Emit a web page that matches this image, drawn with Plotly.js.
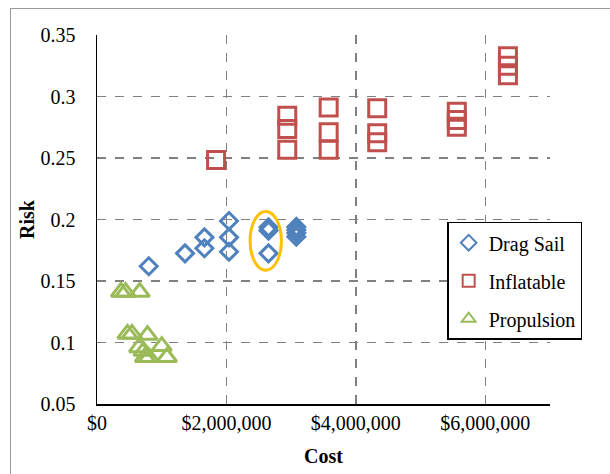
<!DOCTYPE html>
<html>
<head>
<meta charset="utf-8">
<script src="https://cdn.plot.ly/plotly-3.0.1.min.js"></script>
<style>
  html, body { margin: 0; padding: 0; background: #fff; }
  #frame { position: absolute; left: 10px; top: 8px; width: 700px; height: 600px; border: 1.5px solid #9a9a9a; }
  #chart { position: absolute; left: 0; top: 0; width: 610px; height: 474px; }
</style>
</head>
<body>
<div id="frame"></div>
<div id="chart"></div>
<script>
// Drag Sail
const dragCost = [800000, 1360000, 1660000, 1660000, 2040000, 2040000, 2040000, 2650000, 2650000, 2650000, 3080000, 3080000, 3080000, 3080000];
const dragRisk = [0.162, 0.1725, 0.1855, 0.1766, 0.1988, 0.1855, 0.1738, 0.1937, 0.191, 0.1725, 0.194, 0.1915, 0.189, 0.186];
// Inflatable
const inflCost = [1840000, 2940000, 2940000, 2940000, 3580000, 3580000, 3580000, 4330000, 4330000, 4330000, 5560000, 5560000, 5560000, 6350000, 6350000, 6350000];
const inflRisk = [0.2484, 0.2844, 0.2736, 0.2567, 0.291, 0.271, 0.2567, 0.2904, 0.2702, 0.2628, 0.2876, 0.2809, 0.2754, 0.3327, 0.325, 0.3172];
// Propulsion
const propCost = [370000, 440000, 660000, 470000, 540000, 780000, 650000, 720000, 1000000, 740000, 800000, 1080000];
const propRisk = [0.141, 0.141, 0.141, 0.107, 0.107, 0.106, 0.096, 0.093, 0.097, 0.088, 0.088, 0.088];
// Axis ticks
const xRange = [0, 7000000];
const xStep = 2000000;
const yRange = [0.05, 0.35];
const yStep = 0.05;
// Highlight ellipse (data space)
const highlight = {x0: 2365000, x1: 2850000, y0: 0.1588, y1: 0.2065};

const font = 'Liberation Serif, Times New Roman, serif';

const traces = [
  {x: dragCost, y: dragRisk, name: 'Drag Sail', type: 'scatter', mode: 'markers', legendgroup: 'a',
   marker: {symbol: 'diamond-open', size: 13, color: '#4F81BD', line: {width: 3, color: '#4F81BD'}}},
  {x: inflCost, y: inflRisk, name: 'Inflatable', type: 'scatter', mode: 'markers', legendgroup: 'b',
   marker: {symbol: 'square-open', size: 17, color: '#C0504D', line: {width: 3, color: '#C0504D'}}},
  {x: propCost, y: propRisk, name: 'Propulsion', type: 'scatter', mode: 'markers', legendgroup: 'c',
   marker: {symbol: 'triangle-up-open', size: 17, color: '#9BBB59', line: {width: 3, color: '#9BBB59'}}}
];

const layout = {
  width: 610, height: 474,
  margin: {l: 97, r: 60, t: 35, b: 70},
  paper_bgcolor: 'rgba(0,0,0,0)',
  plot_bgcolor: 'rgba(0,0,0,0)',
  font: {family: font, size: 20, color: '#000'},
  showlegend: true,
  legend: {
    x: 0.773, y: 0.494, xanchor: 'left', yanchor: 'top',
    bgcolor: '#fff', bordercolor: '#000', borderwidth: 1.5,
    font: {family: font, size: 20, color: '#000'},
    traceorder: 'grouped', tracegroupgap: 9, itemsizing: 'constant', itemwidth: 30
  },
  xaxis: {
    range: xRange, tick0: 0, dtick: xStep, tickprefix: '$', tickformat: ',d',
    showgrid: true, gridcolor: '#808080', gridwidth: 1.5, griddash: 'dash',
    showline: true, linecolor: '#000', linewidth: 1.5, zeroline: false,
    ticks: '', ticklabelstandoff: 0,
    tickfont: {family: font, size: 20, color: '#000'},
    title: {text: '<b>Cost</b>', font: {family: font, size: 20, color: '#000'}, standoff: 16}
  },
  yaxis: {
    range: yRange, tick0: 0.05, dtick: yStep,
    showgrid: true, gridcolor: '#808080', gridwidth: 1.5, griddash: 'dash',
    showline: true, linecolor: '#000', linewidth: 1.5, zeroline: false,
    ticks: '', ticklabelstandoff: 16,
    tickfont: {family: font, size: 20, color: '#000'},
    title: {text: '<b>Risk</b>', font: {family: font, size: 20, color: '#000'}, standoff: 0}
  },
  shapes: [{
    type: 'circle', xref: 'x', yref: 'y',
    x0: highlight.x0, x1: highlight.x1, y0: highlight.y0, y1: highlight.y1,
    line: {color: '#FFC000', width: 3}
  }]
};

Plotly.newPlot('chart', traces, layout, {displayModeBar: false, staticPlot: true});
</script>
</body>
</html>
